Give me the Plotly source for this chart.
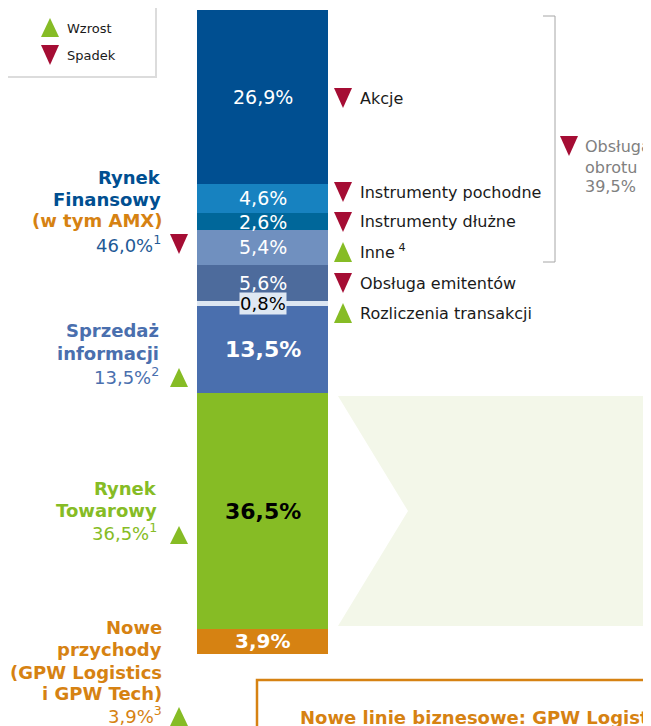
import plotly.graph_objects as go

# ---------------- data ----------------
segments = ["Akcje", "Instrumenty pochodne", "Instrumenty dłużne", "Inne",
            "Obsługa emitentów", "Rozliczenia transakcji", "Sprzedaż informacji",
            "Rynek Towarowy", "Nowe przychody"]
values = [26.9, 4.6, 2.6, 5.4, 5.6, 0.8, 13.5, 36.5, 3.9]
value_labels = ["26,9%", "4,6%", "2,6%", "5,4%", "5,6%", "0,8%", "13,5%", "36,5%", "3,9%"]
trend = ["down", "down", "down", "up", "down", "up", "up", "up", "up"]
bar_colors = ["#004f91", "#1782c0", "#00679a", "#7090bf", "#4d6b9c", "#dce6f2",
              "#4a6fae", "#86bc25", "#d68212"]
label_colors = ["white", "white", "white", "white", "white", "black", "white", "black", "white"]
label_bold = [False, False, False, False, False, False, True, True, True]
label_sizes = [19, 19, 19, 19, 19, 18, 22, 22, 20]

group_names = [["Rynek", "Finansowy"], ["Sprzedaż", "informacji"], ["Rynek", "Towarowy"],
               ["Nowe", "przychody", "(GPW Logistics", "i GPW Tech)"]]
group_values = ["46,0%", "13,5%", "36,5%", "3,9%"]
group_notes = ["1", "2", "1", "3"]
group_trend = ["down", "up", "up", "up"]

turnover_label = ["Obsługa", "obrotu", "39,5%"]

RED = "#a50d34"
GREEN = "#86bc25"
ORANGE = "#d68212"
FONT = "DejaVu Sans"

# page is offset by the default 8px body margin
OFF = 8
W, H = 651 - OFF, 726 - OFF
BAR_TOP, BAR_BOT = 10, 654
BAR_X, BAR_W = 262.5, 131

total = sum(values)
scale = (BAR_BOT - BAR_TOP) / total
y_range = [(726 - BAR_TOP) / scale, -(BAR_TOP - OFF) / scale]


def P(py):
    return 1 - (py - OFF) / H


fig = go.Figure()
cum = 0
mids = []
for name, v, c in zip(segments, values, bar_colors):
    fig.add_trace(go.Bar(x=[BAR_X], y=[v], width=BAR_W, name=name,
                         marker=dict(color=c, line=dict(width=0)),
                         hoverinfo="name+y", showlegend=False))
    mids.append(cum + v / 2)
    cum += v

annotations = []
shapes = []

# bar value labels
for i, (m, t) in enumerate(zip(mids, value_labels)):
    txt_ = f"<b>{t}</b>" if label_bold[i] else t
    a = dict(x=BAR_X, y=m, xref="x", yref="y", text=txt_, showarrow=False,
             font=dict(family=FONT, size=label_sizes[i], color=label_colors[i]),
             xanchor="center", yanchor="middle")
    if i == 5:
        a.update(bgcolor="#dfe8f3", borderpad=0)
    annotations.append(a)


def tri(cx, top, bot, kind, color):
    if kind == "up":
        path = f"M {cx-9},{P(bot)} L {cx+9},{P(bot)} L {cx},{P(top)} Z"
    else:
        path = f"M {cx-9},{P(top)} L {cx+9},{P(top)} L {cx},{P(bot)} Z"
    shapes.append(dict(type="path", path=path, xref="x", yref="paper",
                       fillcolor=color, line=dict(width=0)))


def txt(x, py, text, size=16, color="#1a1a1a", anchor="left", bold=False):
    if bold:
        text = f"<b>{text}</b>"
    annotations.append(dict(x=x, y=P(py), xref="x", yref="paper", text=text,
                            showarrow=False, xanchor=anchor, yanchor="middle",
                            font=dict(family=FONT, size=size, color=color)))


# legend box
shapes.append(dict(type="rect", xref="x", yref="paper", x0=7, x1=156, y0=P(77), y1=P(-10),
                   line=dict(color="#dcdcdc", width=2), fillcolor="white", layer="below"))
tri(50, 18, 37, "up", GREEN)
tri(50, 45, 65, "down", RED)
txt(65, 28, "Wzrost", size=13)
txt(65, 55, "Spadek", size=13)

# chevron background
chev = "M 338,{a} L 660,{a} L 660,{b} L 338,{b} L 408,{c} Z".format(a=P(396), b=P(626), c=P(511))
shapes.append(dict(type="path", path=chev, xref="x", yref="paper",
                   fillcolor="#f3f7e9", line=dict(width=0), layer="below"))

# orange box
shapes.append(dict(type="rect", xref="x", yref="paper", x0=257, x1=700, y0=P(760), y1=P(680),
                   line=dict(color=ORANGE, width=2.5), fillcolor="rgba(0,0,0,0)"))
txt(298, 717, "Nowe linie biznesowe: GPW Logistics i GPW Tech", size=18, color=ORANGE, bold=True)

# right-side segment labels
right_y = [98, 192, 222, 252, 283, 313]
for i, ry in enumerate(right_y):
    tri(343, ry - 10, ry + 10, trend[i], RED if trend[i] == "down" else GREEN)
    name = segments[i]
    if name == "Inne":
        name = "Inne<sup> 4</sup>"
    txt(358, ry, name, size=16)

# bracket
shapes.append(dict(type="path", xref="x", yref="paper",
                   path=f"M 543,{P(16)} L 555,{P(16)} L 555,{P(262)} L 543,{P(262)}",
                   line=dict(color="#a6a6a6", width=1)))
tri(569, 136, 156, "down", RED)
for ly, t in zip([147, 167, 186], turnover_label):
    txt(583, ly, t, size=16, color="#808080")

# left group labels
g_colors = ["#004f91", "#4a6fae", GREEN, ORANGE]
val_colors = ["#1f5a96", "#4a6fae", GREEN, ORANGE]
g_right = [163, 161, 159, 164]
# Rynek Finansowy
txt(g_right[0], 177, group_names[0][0], 18, g_colors[0], "right", True)
txt(g_right[0], 199, group_names[0][1], 18, g_colors[0], "right", True)
txt(g_right[0] + 1, 221, "(w tym AMX)", 18, ORANGE, "right", True)
txt(g_right[0], 244, f"{group_values[0]}<sup>{group_notes[0]}</sup>", 18, val_colors[0], "right")
tri(179, 234, 254, group_trend[0], RED)
# Sprzedaż informacji
txt(g_right[1], 330, group_names[1][0], 18, g_colors[1], "right", True)
txt(g_right[1], 353, group_names[1][1], 18, g_colors[1], "right", True)
txt(g_right[1], 376, f"{group_values[1]}<sup>{group_notes[1]}</sup>", 18, val_colors[1], "right")
tri(179, 368, 387, group_trend[1], GREEN)
# Rynek Towarowy
txt(g_right[2], 488, group_names[2][0], 18, g_colors[2], "right", True)
txt(g_right[2], 510, group_names[2][1], 18, g_colors[2], "right", True)
txt(g_right[2], 532, f"{group_values[2]}<sup>{group_notes[2]}</sup>", 18, val_colors[2], "right")
tri(179, 526, 544, group_trend[2], GREEN)
# Nowe przychody
for ly, t in zip([627, 649, 672, 693], group_names[3]):
    txt(g_right[3], ly, t, 18, g_colors[3], "right", True)
txt(g_right[3], 715, f"{group_values[3]}<sup>{group_notes[3]}</sup>", 18, val_colors[3], "right")
tri(179, 707, 726, group_trend[3], GREEN)

fig.update_layout(
    width=W, height=H, margin=dict(l=0, r=0, t=0, b=0),
    paper_bgcolor="white", plot_bgcolor="white",
    barmode="stack", showlegend=False,
    xaxis=dict(range=[OFF, 651], visible=False, fixedrange=True),
    yaxis=dict(range=y_range, visible=False, fixedrange=True),
    annotations=annotations, shapes=shapes,
    font=dict(family=FONT),
)

fig.write_html("out.html")
